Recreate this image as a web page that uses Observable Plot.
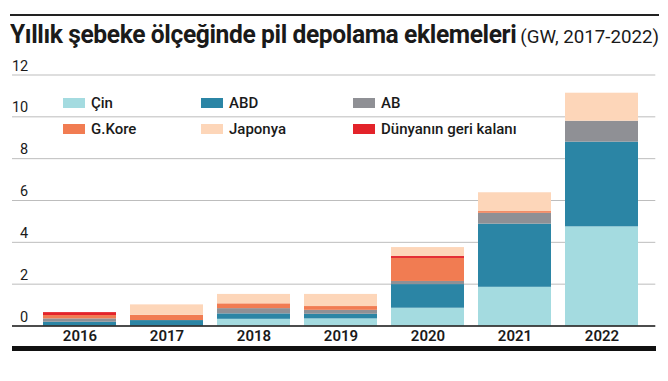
<!DOCTYPE html>
<html>
<head>
<meta charset="utf-8">
<script src="https://cdn.jsdelivr.net/npm/d3@7"></script>
<script src="https://cdn.jsdelivr.net/npm/@observablehq/plot@0.6"></script>
<style>
  body { margin: 0; background: #fff; font-family: Roboto, "Noto Sans", sans-serif; color: #1a1a1a; }
  #wrap { position: relative; width: 668px; height: 381px; }
  #topline { position: absolute; left: 10px; top: 14px; width: 649px; border-top: 2px solid #222; }
  #title { position: absolute; left: 10px; top: 21px; white-space: nowrap; transform-origin: 0 0; line-height: 1.1; }
  #title b { font-size: 25px; font-weight: 700; letter-spacing: -0.4px; }
  #title span { font-size: 19px; font-weight: 400; }
  #chart { position: absolute; left: 0; top: 58px; }
  #bottomline { position: absolute; left: 12px; top: 346px; width: 644px; height: 5px; background: #111; }
  .lg { position: absolute; display: flex; align-items: center; font-size: 15px; font-weight: 500; white-space: nowrap; }
  .lg i { display: inline-block; width: 22px; height: 10px; margin-right: 6px; }
</style>
</head>
<body>
<div id="wrap">
  <div id="topline"></div>
  <div id="title"><b>Yıllık şebeke ölçeğinde pil depolama eklemeleri</b> <span>(GW, 2017-2022)</span></div>
  <div id="chart"></div>
  <div id="legend"></div>
  <div id="bottomline"></div>
</div>
<script>
const years   = ["2016", "2017", "2018", "2019", "2020", "2021", "2022"];
const cin     = [0.00, 0.00, 0.32, 0.34, 0.85, 1.85, 4.74];
const abd     = [0.18, 0.26, 0.26, 0.22, 1.13, 3.02, 4.05];
const ab      = [0.16, 0.00, 0.25, 0.19, 0.15, 0.52, 1.00];
const gkore   = [0.16, 0.25, 0.23, 0.18, 1.10, 0.08, 0.00];
const japonya = [0.00, 0.50, 0.45, 0.58, 0.43, 0.90, 1.34];
const diger   = [0.14, 0.00, 0.00, 0.00, 0.09, 0.00, 0.00];

const seriesNames  = ["Çin", "ABD", "AB", "G.Kore", "Japonya", "Dünyanın geri kalanı"];
const seriesColors = ["#a4dbe0", "#2b85a5", "#8f9095", "#f17c52", "#fdd6b9", "#e3232a"];
const stackOrder   = ["Çin", "ABD", "AB", "G.Kore", "Dünyanın geri kalanı", "Japonya"];
const yTicks = [0, 2, 4, 6, 8, 10, 12];

const seriesValues = [cin, abd, ab, gkore, japonya, diger];
const data = [];
seriesNames.forEach((s, i) => years.forEach((y, j) => data.push({year: y, series: s, value: seriesValues[i][j]})));

const ext = -12.7;
const chart = Plot.plot({
  width: 668,
  height: 300,
  marginTop: 16.5,
  marginBottom: 32.5,
  marginLeft: 24.7,
  marginRight: 12.7,
  style: { fontFamily: "Roboto, sans-serif", color: "#1a1a1a", background: "transparent" },
  x: { domain: years, padding: 0.166, label: null },
  y: { domain: [0, 12], label: null },
  color: { domain: seriesNames, range: seriesColors },
  marks: [
    Plot.ruleY(yTicks.slice(1), { stroke: "#bdbdbd", strokeWidth: 1, insetLeft: ext }),
    Plot.barY(data, { x: "year", y: "value", fill: "series", order: stackOrder }),
    Plot.ruleY([0], { stroke: "#111", strokeWidth: 1.6, insetLeft: ext }),
    Plot.axisY(yTicks, { anchor: "left", tickSize: 0, tickPadding: 0, dx: 3, dy: -9, fontSize: 14.5, label: null }),
    Plot.axisX({ anchor: "bottom", tickSize: 0, tickPadding: 4, fontSize: 15, fontWeight: 600, label: null })
  ]
});
document.getElementById("chart").appendChild(chart);

// legend overlay
const legendPos = [[63, 98], [201, 98], [353, 98], [63, 124], [201, 124], [353, 124]];
const lg = document.getElementById("legend");
seriesNames.forEach((s, i) => {
  const d = document.createElement("div");
  d.className = "lg";
  d.style.left = legendPos[i][0] + "px";
  d.style.top = (legendPos[i][1] - 5) + "px";
  d.style.height = "20px";
  d.innerHTML = `<i style="background:${seriesColors[i]}"></i>${s}`;
  lg.appendChild(d);
});

// fit title to target width
const t = document.getElementById("title");
const w = t.getBoundingClientRect().width;
const target = 649;
t.style.transform = `scaleX(${target / w})`;
</script>
</body>
</html>
